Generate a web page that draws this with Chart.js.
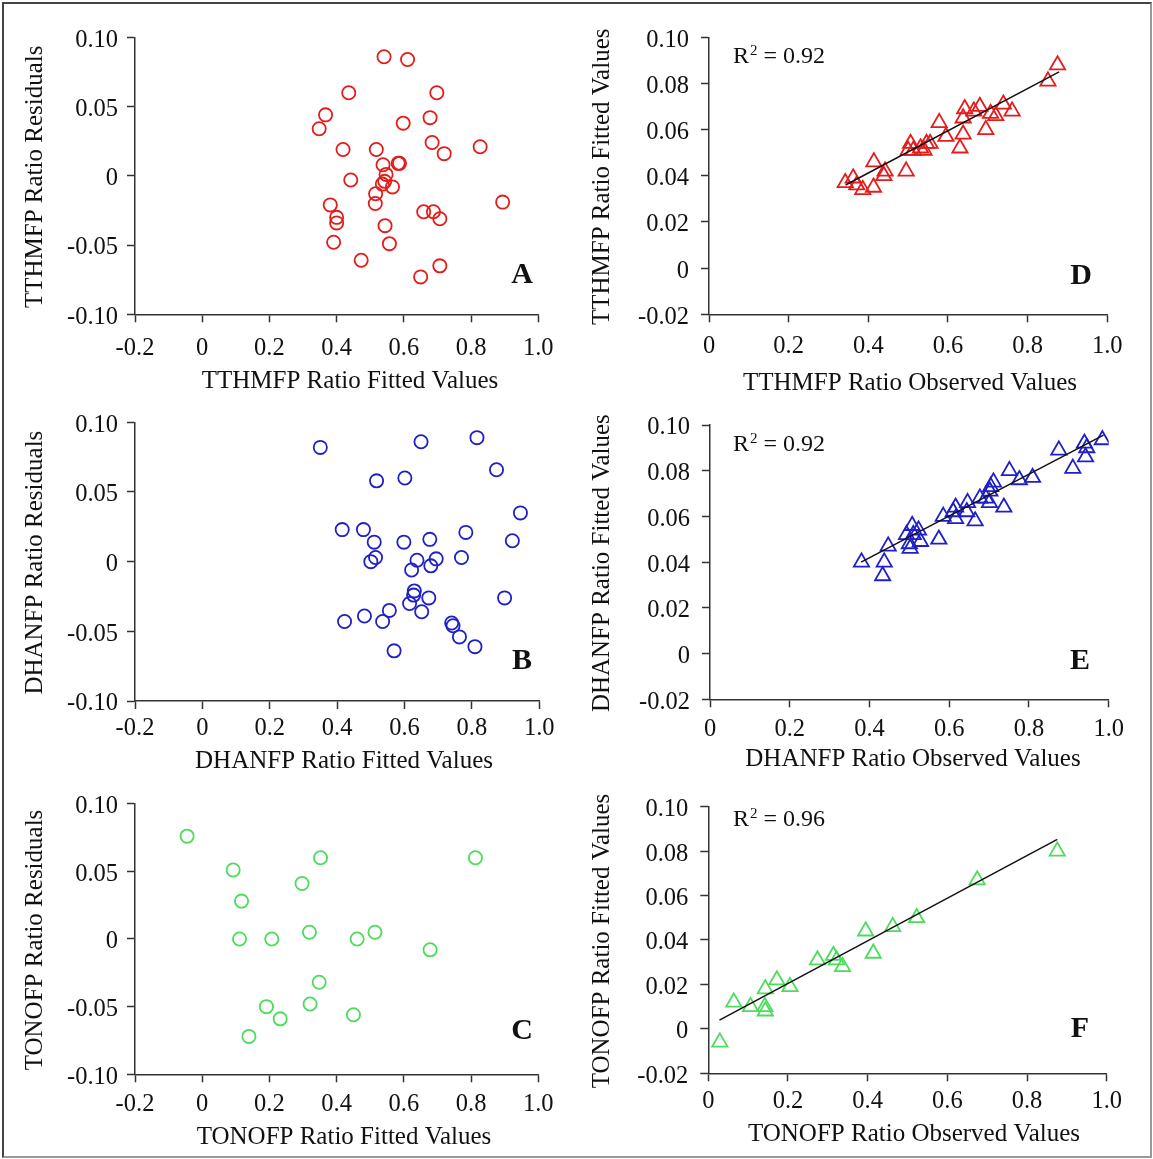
<!DOCTYPE html>
<html>
<head>
<meta charset="utf-8">
<script src="https://cdn.jsdelivr.net/npm/chart.js@4.4.1/dist/chart.umd.min.js"></script>
<style>
  body { margin: 0; background: #fff; }
  #fig { position: relative; width: 1153px; height: 1159px; background: #fff; overflow: hidden; }
  #frame { position: absolute; left: 2px; top: 2px; width: 1146px; height: 1152px;
           border: 2px solid #444; border-bottom-color: #999; border-right-color: #999; }
  canvas { position: absolute; }
</style>
</head>
<body>
<div id="fig"><div id="frame"></div></div>
<script>
// axis ticks
const fittedTicks = [-0.2, 0, 0.2, 0.4, 0.6, 0.8, 1.0];
const fittedTickLabels = ['-0.2', '0', '0.2', '0.4', '0.6', '0.8', '1.0'];
const residualTicks = [-0.10, -0.05, 0, 0.05, 0.10];
const residualTickLabels = ['-0.10', '-0.05', '0', '0.05', '0.10'];
const observedTicks = [0, 0.2, 0.4, 0.6, 0.8, 1.0];
const observedTickLabels = ['0', '0.2', '0.4', '0.6', '0.8', '1.0'];
const predTicks = [-0.02, 0, 0.02, 0.04, 0.06, 0.08, 0.10];
const predTickLabels = ['-0.02', '0', '0.02', '0.04', '0.06', '0.08', '0.10'];

// A: TTHMFP residuals vs fitted
const tthmFitted = [0.541, 0.611, 0.436, 0.698, 0.367, 0.348, 0.678, 0.598, 0.684, 0.720,
  0.827, 0.419, 0.518, 0.538, 0.583, 0.587, 0.547, 0.543, 0.536, 0.566,
  0.442, 0.516, 0.515, 0.894, 0.381, 0.400, 0.400, 0.659, 0.688, 0.707,
  0.544, 0.391, 0.557, 0.473, 0.707, 0.650];
const tthmResid = [0.086, 0.084, 0.060, 0.060, 0.044, 0.034, 0.042, 0.038, 0.024, 0.016,
  0.021, 0.019, 0.019, 0.008, 0.009, 0.009, 0.001, -0.004, -0.006, -0.008,
  -0.003, -0.013, -0.020, -0.019, -0.021, -0.030, -0.034, -0.026, -0.026, -0.031,
  -0.036, -0.048, -0.049, -0.061, -0.065, -0.073];

// B: DHANFP residuals vs fitted
const dhanFitted = [0.350, 0.649, 0.815, 0.873, 0.517, 0.601, 0.944, 0.415, 0.478, 0.510,
  0.598, 0.675, 0.782, 0.920, 0.514, 0.500, 0.637, 0.694, 0.678, 0.769,
  0.621, 0.629, 0.627, 0.672, 0.615, 0.651, 0.897, 0.555, 0.481, 0.422,
  0.535, 0.740, 0.744, 0.763, 0.809, 0.569];
const dhanResid = [0.082, 0.086, 0.089, 0.066, 0.058, 0.060, 0.035, 0.023, 0.023, 0.014,
  0.014, 0.016, 0.021, 0.015, 0.003, 0.000, 0.001, 0.002, -0.003, 0.003,
  -0.006, -0.021, -0.024, -0.026, -0.030, -0.036, -0.026, -0.035, -0.039, -0.043,
  -0.043, -0.044, -0.046, -0.054, -0.061, -0.064];

// C: TONOFP residuals vs fitted
const tonoFitted = [-0.045, 0.092, 0.117, 0.111, 0.207, 0.297, 0.352, 0.319, 0.461, 0.514,
  0.678, 0.813, 0.348, 0.321, 0.191, 0.232, 0.450, 0.139];
const tonoResid = [0.076, 0.051, 0.028, 0.000, 0.000, 0.041, 0.060, 0.005, 0.000, 0.005,
  -0.008, 0.060, -0.032, -0.048, -0.050, -0.059, -0.056, -0.072];

// D: TTHMFP fitted vs observed
const tthmObs = [0.875, 0.851, 0.342, 0.362, 0.371, 0.386, 0.413, 0.414, 0.442, 0.439,
  0.495, 0.506, 0.500, 0.513, 0.531, 0.546, 0.540, 0.555, 0.578, 0.595,
  0.630, 0.638, 0.642, 0.638, 0.665, 0.680, 0.695, 0.707, 0.720, 0.739, 0.761];
const tthmPred = [0.088, 0.081, 0.037, 0.039, 0.036, 0.034, 0.035, 0.046, 0.042, 0.040,
  0.042, 0.054, 0.051, 0.051, 0.052, 0.054, 0.051, 0.054, 0.063, 0.057,
  0.052, 0.058, 0.069, 0.065, 0.068, 0.070, 0.060, 0.067, 0.066, 0.071, 0.068];
const tthmLineX = [0.343, 0.879];
const tthmLineY = [0.036, 0.085];

// E: DHANFP fitted vs observed
const dhanObs = [0.984, 0.939, 0.945, 0.942, 0.875, 0.910, 0.809, 0.776, 0.751, 0.711,
  0.704, 0.702, 0.692, 0.701, 0.737, 0.677, 0.646, 0.644, 0.616, 0.610,
  0.616, 0.585, 0.665, 0.574, 0.507, 0.523, 0.493, 0.510, 0.528, 0.500,
  0.502, 0.447, 0.380, 0.437, 0.433];
const dhanPred = [0.0935, 0.092, 0.090, 0.086, 0.089, 0.081, 0.077, 0.076, 0.080, 0.075,
  0.073, 0.071, 0.068, 0.066, 0.064, 0.068, 0.066, 0.062, 0.064, 0.062,
  0.059, 0.060, 0.058, 0.050, 0.056, 0.054, 0.052, 0.052, 0.049, 0.048,
  0.046, 0.047, 0.040, 0.040, 0.034];
const dhanLineX = [0.379, 0.987];
const dhanLineY = [0.040, 0.0956];

// F: TONOFP fitted vs observed
const tonoObs = [0.029, 0.064, 0.106, 0.142, 0.143, 0.143, 0.172, 0.205, 0.274, 0.314,
  0.322, 0.337, 0.395, 0.414, 0.463, 0.523, 0.675, 0.876];
const tonoPred = [-0.006, 0.012, 0.010, 0.010, 0.008, 0.018, 0.022, 0.019, 0.031, 0.033,
  0.031, 0.028, 0.044, 0.034, 0.046, 0.050, 0.067, 0.080];
const tonoLineX = [0.028, 0.876];
const tonoLineY = [0.0039, 0.0853];

const r2Labels = ['0.92', '0.92', '0.96'];

const RED = '#e41c1c';
const BLUE = '#2020c8';
const GREEN = '#4cdc5c';
const AXIS = '#333';
const FONT = '"Liberation Serif", "Times New Roman", serif';

const toPoints = (xs, ys) => xs.map((x, i) => ({ x: x, y: ys[i] }));

// draws axis titles, panel letter and R² note
const panelText = {
    id: 'panelText',
    afterDraw(chart, args, o) {
        const ctx = chart.ctx;
        const a = chart.chartArea;
        ctx.save();
        ctx.fillStyle = '#111';
        ctx.textAlign = 'center';
        ctx.textBaseline = 'middle';
        ctx.font = '25px ' + FONT;
        ctx.fillText(o.xTitle, o.xTitleX - o.ox, o.xTitleY - o.oy);

        ctx.save();
        ctx.translate(o.yTitleX - o.ox, (a.top + a.bottom) / 2 + 1);
        ctx.rotate(-Math.PI / 2);
        ctx.fillText(o.yTitle, 0, 0);
        ctx.restore();

        ctx.font = 'bold 30px ' + FONT;
        ctx.fillText(o.letter, o.letterX - o.ox, o.letterY - o.oy);

        if (o.r2) {
            ctx.textAlign = 'left';
            ctx.textBaseline = 'alphabetic';
            let x = o.r2X - o.ox;
            const base = o.r2Y - o.oy;
            ctx.font = '24px ' + FONT;
            ctx.fillText('R', x, base);
            x += ctx.measureText('R').width + 1;
            ctx.font = '15px ' + FONT;
            ctx.fillText('2', x, base - 8);
            x += ctx.measureText('2').width;
            ctx.font = '24px ' + FONT;
            ctx.fillText(' = ' + o.r2, x, base);
        }
        ctx.restore();
    }
};

const makeAxis = (min, max, ticks, labels, tickPad, fitSize, horizontal) => ({
    type: 'linear',
    min: min,
    max: max,
    afterBuildTicks: scale => { scale.ticks = ticks.map(v => ({ value: v })); },
    afterFit: scale => {
        if (horizontal) scale.height = fitSize; else scale.width = fitSize;
    },
    ticks: {
        autoSkip: false,
        maxRotation: 0,
        padding: tickPad,
        labelOffset: horizontal ? 0 : 3,
        color: '#111',
        font: { family: FONT, size: 24.5 },
        callback: (value, index) => labels[index]
    },
    grid: {
        display: true,
        drawOnChartArea: false,
        drawTicks: true,
        tickLength: 8,
        tickWidth: 1.5,
        tickColor: AXIS
    },
    border: { display: true, color: AXIS, width: 1.5 }
});

const makePanel = (p) => {
    const [rx, ry, rw, rh] = p.rect;
    const [l, t, r, b] = p.area;
    const canvas = document.createElement('canvas');
    canvas.width = rw;
    canvas.height = rh;
    canvas.style.left = rx + 'px';
    canvas.style.top = ry + 'px';
    canvas.style.width = rw + 'px';
    canvas.style.height = rh + 'px';
    document.getElementById('fig').appendChild(canvas);

    const datasets = [];
    if (p.line) {
        datasets.push({
            data: toPoints(p.line[0], p.line[1]),
            showLine: true,
            borderColor: '#111',
            borderWidth: 1.5,
            pointRadius: 0,
            fill: false,
            order: 0
        });
    }
    datasets.push({
        data: toPoints(p.xs, p.ys),
        pointStyle: p.marker,
        pointRadius: p.marker === 'triangle' ? 8.8 : 6.6,
        pointBorderWidth: 1.8,
        pointBorderColor: p.color,
        pointBackgroundColor: 'rgba(255,255,255,0)',
        showLine: false,
        order: 1
    });

    new Chart(canvas.getContext('2d'), {
        type: 'scatter',
        data: { datasets: datasets },
        options: {
            responsive: false,
            animation: false,
            devicePixelRatio: 1,
            layout: { padding: { left: 0, bottom: 0, top: t - ry, right: rx + rw - r } },
            plugins: {
                legend: { display: false },
                tooltip: { enabled: false },
                panelText: Object.assign({ ox: rx, oy: ry }, p.text)
            },
            scales: {
                x: makeAxis(p.xTicks[0], p.xTicks[p.xTicks.length - 1], p.xTicks, p.xLabels,
                    p.xPad, ry + rh - b, true),
                y: makeAxis(p.yTicks[0], p.yTicks[p.yTicks.length - 1], p.yTicks, p.yLabels,
                    p.yPad, l - rx, false)
            }
        },
        plugins: [panelText]
    });
};

const panels = [
    { rect: [0, 0, 576, 398], area: [135, 37.3, 538.3, 314.3], xPad: 12, yPad: 9,
      xs: tthmFitted, ys: tthmResid, marker: 'circle', color: RED,
      xTicks: fittedTicks, xLabels: fittedTickLabels, yTicks: residualTicks, yLabels: residualTickLabels,
      text: { xTitle: 'TTHMFP Ratio Fitted Values', yTitle: 'TTHMFP Ratio Residuals',
              xTitleX: 350, xTitleY: 381, yTitleX: 35, letter: 'A', letterX: 522, letterY: 275 } },
    { rect: [576, 0, 577, 398], area: [709, 37.3, 1107.3, 314.3], xPad: 10, yPad: 12,
      xs: tthmObs, ys: tthmPred, marker: 'triangle', color: RED, line: [tthmLineX, tthmLineY],
      xTicks: observedTicks, xLabels: observedTickLabels, yTicks: predTicks, yLabels: predTickLabels,
      text: { xTitle: 'TTHMFP Ratio Observed Values', yTitle: 'TTHMFP Ratio Fitted Values',
              xTitleX: 910, xTitleY: 383, yTitleX: 602, letter: 'D', letterX: 1081, letterY: 276,
              r2: r2Labels[0], r2X: 733, r2Y: 63 } },
    { rect: [0, 398, 576, 382], area: [135, 422.3, 539.3, 701], xPad: 5, yPad: 9,
      xs: dhanFitted, ys: dhanResid, marker: 'circle', color: BLUE,
      xTicks: fittedTicks, xLabels: fittedTickLabels, yTicks: residualTicks, yLabels: residualTickLabels,
      text: { xTitle: 'DHANFP Ratio Fitted Values', yTitle: 'DHANFP Ratio Residuals',
              xTitleX: 344, xTitleY: 761, yTitleX: 35, letter: 'B', letterX: 522, letterY: 661 } },
    { rect: [576, 398, 577, 382], area: [710, 425, 1108.7, 699.3], xPad: 8, yPad: 12,
      xs: dhanObs, ys: dhanPred, marker: 'triangle', color: BLUE, line: [dhanLineX, dhanLineY],
      xTicks: observedTicks, xLabels: observedTickLabels, yTicks: predTicks, yLabels: predTickLabels,
      text: { xTitle: 'DHANFP Ratio Observed Values', yTitle: 'DHANFP Ratio Fitted Values',
              xTitleX: 913, xTitleY: 759, yTitleX: 602, letter: 'E', letterX: 1080, letterY: 661,
              r2: r2Labels[1], r2X: 733, r2Y: 451 } },
    { rect: [0, 780, 576, 379], area: [135, 797.3, 538.3, 1074.3], xPad: 8, yPad: 9,
      xs: tonoFitted, ys: tonoResid, marker: 'circle', color: GREEN,
      xTicks: fittedTicks, xLabels: fittedTickLabels, yTicks: residualTicks, yLabels: residualTickLabels,
      text: { xTitle: 'TONOFP Ratio Fitted Values', yTitle: 'TONOFP Ratio Residuals',
              xTitleX: 344, xTitleY: 1137, yTitleX: 35, letter: 'C', letterX: 522, letterY: 1031 } },
    { rect: [576, 780, 577, 379], area: [708.3, 799.3, 1106.7, 1073.3], xPad: 6, yPad: 12,
      xs: tonoObs, ys: tonoPred, marker: 'triangle', color: GREEN, line: [tonoLineX, tonoLineY],
      xTicks: observedTicks, xLabels: observedTickLabels, yTicks: predTicks, yLabels: predTickLabels,
      text: { xTitle: 'TONOFP Ratio Observed Values', yTitle: 'TONOFP Ratio Fitted Values',
              xTitleX: 914, xTitleY: 1134, yTitleX: 602, letter: 'F', letterX: 1080, letterY: 1029,
              r2: r2Labels[2], r2X: 733, r2Y: 826 } }
];

panels.forEach(makePanel);
</script>
</body>
</html>
